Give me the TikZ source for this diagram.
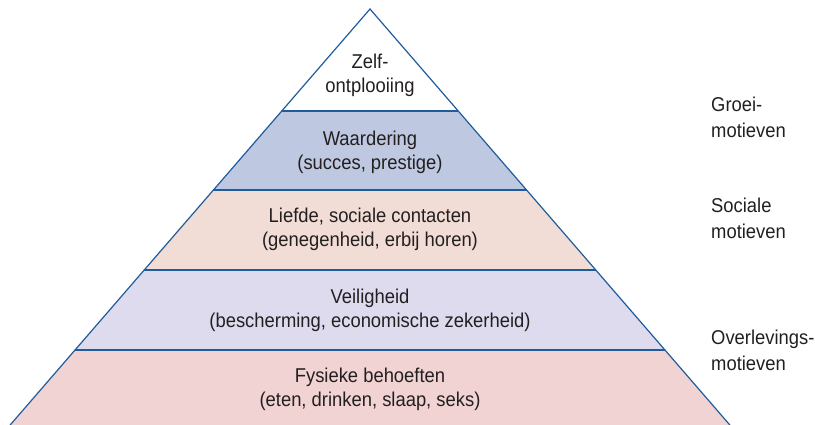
\documentclass[tikz,border=0pt]{standalone}
\usepackage{fontspec}
\setmainfont[FakeStretch=0.92]{Liberation Sans}
\definecolor{edge}{HTML}{1F5C9C}
\definecolor{txt}{HTML}{231F20}
\definecolor{cA}{HTML}{BFC8E1}
\definecolor{cB}{HTML}{F1DDD5}
\definecolor{cC}{HTML}{DEDBEE}
\definecolor{cD}{HTML}{F1D3D3}
\tikzset{
  lbl/.style={text=txt,font=\fontsize{20}{24}\selectfont,align=center,inner sep=0pt},
  side/.style={text=txt,font=\fontsize{20}{26}\selectfont,align=left,anchor=west,inner sep=0pt},
  layerline/.style={draw=edge,line width=1.3pt}
}
\begin{document}
\begin{tikzpicture}[x=1pt,y=-1pt]
\useasboundingbox (0,0) rectangle (815,424);
\def\ax{370}\def\ay{9}\def\k{0.865}
\coordinate (apex) at (\ax,\ay);
\foreach \n/\yy in {a/111,b/190,c/270,d/350,e/430}{
  \coordinate (L\n) at ({\ax-\k*(\yy-\ay)},\yy);
  \coordinate (R\n) at ({\ax+\k*(\yy-\ay)},\yy);
}
\fill[white] (apex) -- (Ra) -- (La) -- cycle;
\fill[cA] (La) -- (Ra) -- (Rb) -- (Lb) -- cycle;
\fill[cB] (Lb) -- (Rb) -- (Rc) -- (Lc) -- cycle;
\fill[cC] (Lc) -- (Rc) -- (Rd) -- (Ld) -- cycle;
\fill[cD] (Ld) -- (Rd) -- (Re) -- (Le) -- cycle;
\foreach \n in {a,b,c,d}{ \draw[layerline] (L\n) -- (R\n); }
\draw[draw=edge,line width=1.2pt] (Le) -- (apex) -- (Re);
\node[lbl] (t1) at (370,75) {Zelf-\\ontplooiing};
\node[lbl] (t2) at (370,152) {Waardering\\(succes, prestige)};
\node[lbl] (t3) at (370,229) {Liefde, sociale contacten\\(genegenheid, erbij horen)};
\node[lbl] (t4) at (370,310) {Veiligheid\\(bescherming, economische zekerheid)};
\node[lbl] (t5) at (370,389) {Fysieke behoeften\\(eten, drinken, slaap, seks)};
\node[side] (s1) at (711,117) {Groei-\\motieven};
\node[side] (s2) at (711,218) {Sociale\\motieven};
\node[side] (s3) at (711,350) {Overlevings-\\motieven};
\end{tikzpicture}
\end{document}
